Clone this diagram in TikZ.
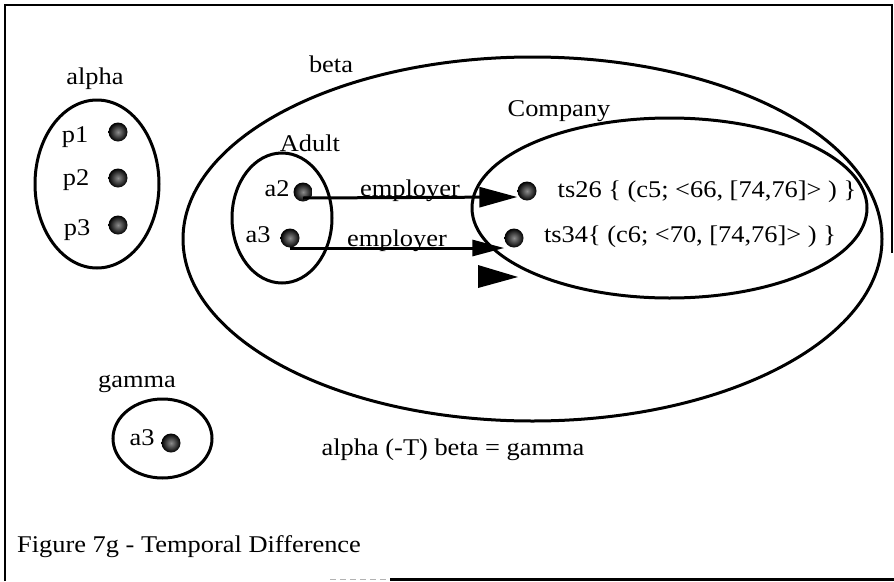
\documentclass[tikz,border=0pt]{standalone}
\usepackage{fontspec}
\setmainfont{Liberation Serif}[FakeStretch=1.1]
\usetikzlibrary{shapes.geometric,arrows.meta}

\begin{document}
\begin{tikzpicture}[x=1pt,y=-1pt,
  every node/.style={inner sep=0pt, font=\fontsize{24}{28}\selectfont},
  set/.style={draw, ellipse, line width=3pt},
  member/.style={circle, minimum size=19pt, inner sep=0pt,
                 shading=radial, inner color=black!45, outer color=black},
  emp/.style={line width=3pt},
  frameline/.style={line width=2.8pt}]

\useasboundingbox (0,0) rectangle (894,581);

% outer frame
\draw[frameline] (5,581) -- (5,5) -- (892,5) -- (892,253);
\draw[line width=1.5pt, black!30, dash pattern=on 6pt off 4pt] (330,579.5) -- (390,579.5);
\draw[frameline] (390,579.5) -- (894,579.5);

% set alpha
\node (alphaLbl) at (95,79) {alpha};
\node[set, minimum width=124pt, minimum height=168pt] (alpha) at (97,184) {};
\node (p1) at (75,137) {p1};
\node (p2) at (76,180) {p2};
\node (p3) at (77,230) {p3};
\node[member] (p1d) at (118,132) {};
\node[member] (p2d) at (118,178) {};
\node[member] (p3d) at (118,225) {};

% set beta with classes Adult and Company
\node (betaLbl) at (331,64) {beta};
\node[set, minimum width=699pt, minimum height=364pt] (beta) at (532.5,239) {};
\node (compLbl) at (559,111) {Company};
\node[set, minimum width=395pt, minimum height=180pt] (company) at (669.5,208) {};
\node (adultLbl) at (310,143) {Adult};
\node[set, minimum width=100pt, minimum height=130pt] (adult) at (282,218) {};

\node (a2) at (277,189) {a2};
\node (a3) at (258,235) {a3};
\node[member] (a2d) at (303,192) {};
\node[member] (a3d) at (290,238) {};

\node[member] (t26d) at (527,191) {};
\node[member] (t34d) at (514,238) {};
\node (t26) at (707,192) {ts26 \{ (c5; <66, [74,76]> ) \}};
\node (t34) at (690,237) {ts34\{ (c6; <70, [74,76]> ) \}};

% employer links
\draw[emp, -{Triangle[length=38pt,width=20pt]}]
  ([yshift=-6pt]a2d.center) -- ([yshift=-6pt]t26d.west);
\draw[emp, -{Triangle[length=32pt,width=16pt]}]
  ([yshift=-10pt]a3d.center) -- ([yshift=-10pt]t34d.west);
\node[anchor=base] (emp1) at (410,196) {employer};
\node[anchor=base] (emp2) at (397,246) {employer};

% loose arrowhead
\fill (478,265) -- (518,277) -- (478,288) -- cycle;

% set gamma
\node (gammaLbl) at (137,384) {gamma};
\node[set, minimum width=99pt, minimum height=79pt] (gamma) at (162.5,438.5) {};
\node (ga3) at (142,438) {a3};
\node[member] (ga3d) at (171,443) {};

\node (eq) at (453,450) {alpha (-T) beta = gamma};
\node[anchor=west] (caption) at (17,547) {Figure 7g - Temporal Difference};
\end{tikzpicture}
\end{document}
